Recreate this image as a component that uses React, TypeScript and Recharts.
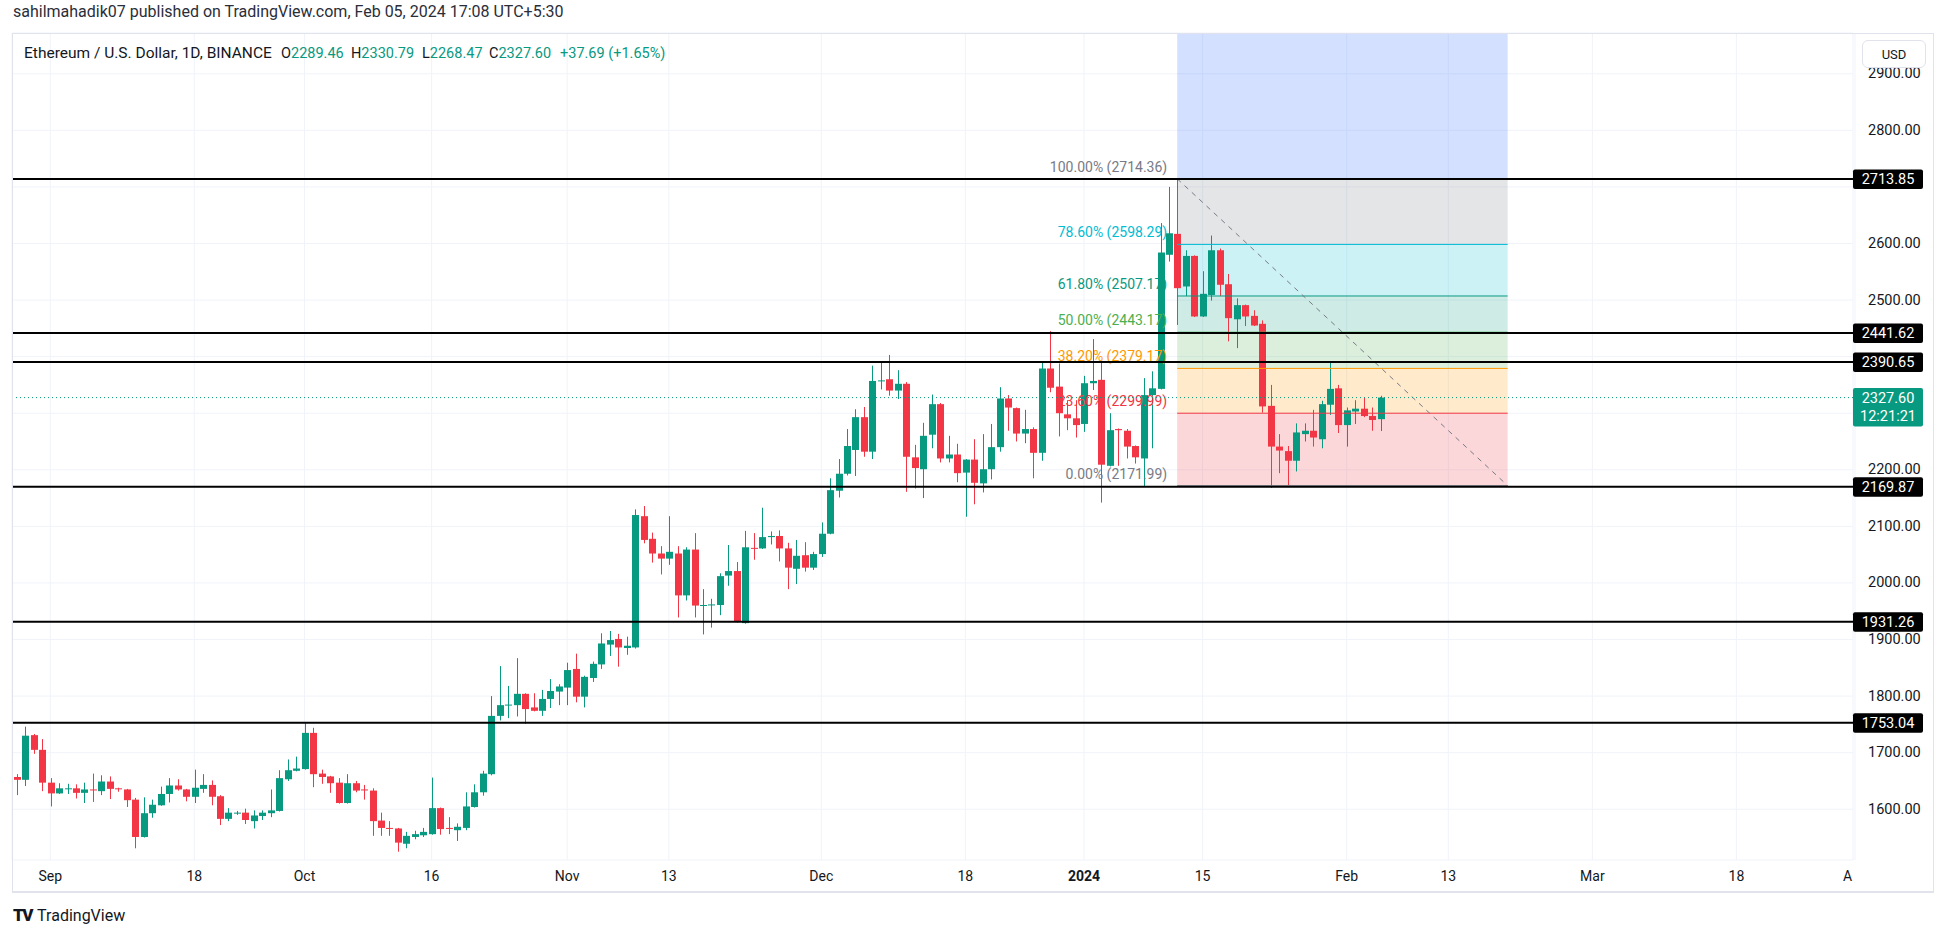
import React from 'react';
import { ComposedChart, Bar, XAxis, YAxis, CartesianGrid, ReferenceLine, ReferenceArea } from 'recharts';

const GREEN = '#089981';
const RED = '#f23645';
const TEXT = '#131722';
const FONT = 'Roboto, "Liberation Sans", Arial, sans-serif';

// daily ETHUSD candles, day 0 = 2023-08-28
const opens = [
  1657, 1652, 1731, 1705, 1647, 1628, 1636, 1637, 1629, 1635,
  1632, 1649, 1637, 1635, 1617, 1551, 1593, 1607, 1627, 1642,
  1635, 1622, 1636, 1643, 1623, 1583, 1593, 1594, 1579, 1588,
  1593, 1597, 1653, 1668, 1671, 1735, 1663, 1658, 1647, 1611,
  1646, 1635, 1633, 1580, 1567, 1566, 1539, 1551, 1554, 1556,
  1602, 1567, 1563, 1567, 1604, 1630, 1662, 1765, 1784, 1784,
  1804, 1780, 1774, 1795, 1808, 1815, 1848, 1799, 1832, 1856,
  1891, 1901, 1885, 1886, 2118, 2078, 2052, 2043, 2052, 1978,
  2059, 1960, 1961, 1961, 2013, 2021, 1929, 2062, 2061, 2081,
  2083, 2061, 2025, 2049, 2027, 2051, 2087, 2163, 2193, 2235,
  2293, 2232, 2357, 2360, 2340, 2352, 2222, 2201, 2262, 2316,
  2220, 2227, 2195, 2218, 2176, 2201, 2240, 2326, 2309, 2264,
  2272, 2230, 2379, 2347, 2298, 2291, 2281, 2353, 2359, 2207,
  2272, 2269, 2242, 2220, 2332, 2343, 2580, 2617, 2524, 2578,
  2471, 2509, 2588, 2528, 2466, 2491, 2472, 2458, 2313, 2241,
  2233, 2216, 2263, 2269, 2254, 2315, 2344, 2279, 2303, 2308,
  2295, 2289.46,
];
const highs = [
  1662, 1746, 1733, 1724, 1655, 1646, 1645, 1644, 1647, 1663,
  1660, 1658, 1638, 1636, 1620, 1621, 1617, 1640, 1655, 1653,
  1636, 1670, 1662, 1651, 1625, 1602, 1597, 1601, 1598, 1598,
  1635, 1669, 1688, 1693, 1753, 1744, 1670, 1659, 1655, 1662,
  1650, 1643, 1637, 1594, 1579, 1567, 1560, 1562, 1567, 1656,
  1603, 1586, 1575, 1630, 1644, 1668, 1800, 1853, 1818, 1867,
  1805, 1805, 1811, 1830, 1821, 1859, 1875, 1836, 1861, 1911,
  1915, 1910, 1905, 2130, 2136, 2089, 2065, 2118, 2065, 2063,
  2088, 1989, 1972, 2017, 2067, 2037, 2092, 2088, 2133, 2091,
  2093, 2071, 2076, 2072, 2055, 2107, 2185, 2219, 2272, 2307,
  2311, 2384, 2389, 2403, 2376, 2355, 2244, 2283, 2333, 2318,
  2260, 2246, 2219, 2254, 2263, 2281, 2346, 2332, 2310, 2306,
  2275, 2392, 2445, 2388, 2323, 2323, 2366, 2431, 2391, 2300,
  2273, 2272, 2243, 2362, 2374, 2636, 2700, 2714.36, 2588, 2579,
  2551, 2614, 2591, 2546, 2503, 2492, 2482, 2464, 2350, 2263,
  2242, 2282, 2282, 2306, 2322, 2390, 2350, 2310, 2323, 2328,
  2310, 2330.79,
];
const lows = [
  1625, 1641, 1698, 1632, 1605, 1627, 1627, 1619, 1611, 1613,
  1625, 1618, 1631, 1604, 1531, 1550, 1585, 1606, 1612, 1633,
  1614, 1611, 1629, 1607, 1572, 1579, 1590, 1574, 1566, 1581,
  1586, 1596, 1650, 1667, 1670, 1639, 1645, 1629, 1610, 1610,
  1630, 1617, 1553, 1553, 1553, 1525, 1531, 1547, 1551, 1555,
  1555, 1556, 1544, 1563, 1603, 1624, 1660, 1757, 1761, 1764,
  1751, 1773, 1765, 1779, 1784, 1784, 1789, 1780, 1825, 1848,
  1871, 1852, 1873, 1884, 2070, 2036, 2015, 2032, 1939, 1969,
  1939, 1909, 1921, 1943, 1995, 1930, 1928, 2041, 2060, 2068,
  2038, 1989, 1998, 2020, 2023, 2046, 2086, 2151, 2190, 2189,
  2223, 2219, 2342, 2331, 2325, 2161, 2167, 2150, 2238, 2213,
  2213, 2178, 2117, 2139, 2160, 2183, 2232, 2269, 2250, 2247,
  2185, 2216, 2337, 2259, 2270, 2257, 2267, 2341, 2142, 2206,
  2207, 2220, 2211, 2170, 2238, 2342, 2568, 2456, 2507, 2470,
  2470, 2499, 2507, 2427, 2415, 2454, 2454, 2301, 2168, 2194,
  2173, 2197, 2250, 2241, 2238, 2297, 2265, 2241, 2281, 2293,
  2269, 2268.47,
];
const closes = [
  1652, 1730, 1705, 1647, 1628, 1637, 1637, 1629, 1635, 1634,
  1649, 1636, 1636, 1616, 1551, 1593, 1608, 1627, 1642, 1635,
  1622, 1638, 1643, 1622, 1583, 1594, 1594, 1581, 1589, 1594,
  1598, 1655, 1669, 1672, 1735, 1662, 1657, 1646, 1611, 1646,
  1633, 1634, 1579, 1567, 1566, 1541, 1553, 1556, 1560, 1602,
  1565, 1566, 1569, 1605, 1630, 1663, 1765, 1784, 1785, 1804,
  1777, 1774, 1795, 1809, 1817, 1846, 1799, 1834, 1857, 1893,
  1899, 1886, 1889, 2120, 2076, 2052, 2043, 2055, 1978, 2059,
  1960, 1961, 1962, 2012, 2021, 1932, 2063, 2061, 2081, 2083,
  2061, 2027, 2048, 2027, 2051, 2087, 2164, 2193, 2242, 2293,
  2232, 2357, 2358, 2340, 2352, 2223, 2203, 2260, 2316, 2220,
  2227, 2194, 2218, 2177, 2201, 2240, 2326, 2310, 2264, 2272,
  2230, 2379, 2345, 2300, 2291, 2279, 2353, 2357, 2209, 2270,
  2270, 2241, 2222, 2332, 2344, 2584, 2618, 2521, 2578, 2471,
  2511, 2588, 2527, 2468, 2491, 2471, 2455, 2312, 2241, 2234,
  2216, 2266, 2269, 2257, 2316, 2343, 2279, 2305, 2308, 2295,
  2288, 2327.6,
];

const tickDays = [4, 21, 34, 49, 65, 77, 95, 112, 126, 140, 157, 169, 186, 203, 217];
const tickLabels = ['Sep', '18', 'Oct', '16', 'Nov', '13', 'Dec', '18', '2024', '15', 'Feb', '13', 'Mar', '18', 'A'];
const priceTicks = [1600, 1700, 1800, 1900, 2000, 2100, 2200, 2300, 2400, 2500, 2600, 2700, 2800, 2900];

// hand-drawn horizontal levels
const levelPrices = [2713.85, 2441.62, 2390.65, 2169.87, 1931.26, 1753.04];

// fib retracement drawn from the Jan 12 high down to the Jan 23 low
const fibPct = ['100.00%', '78.60%', '61.80%', '50.00%', '38.20%', '23.60%', '0.00%'];
const fibPrices = [2714.36, 2598.29, 2507.17, 2443.17, 2379.17, 2299.99, 2171.99];
const fibColors = ['#787b86', '#00bcd4', '#089981', '#4caf50', '#ff9800', '#f23645', '#787b86'];
const fibStart = 137;
const fibEnd = 176;

const lastPrice = 2327.6;
const countdown = '12:21:21';
const change = '+37.69 (+1.65%)';

const X_MIN = -0.52;
const X_MAX = 216.76;
const Y_MIN = 1510.3;
const Y_MAX = 2972;
const PLOT_H = 827;
const PX_PER_USD = PLOT_H / (Y_MAX - Y_MIN);

const candles = opens.map((o, i) => ({ day: i, o, h: highs[i], l: lows[i], c: closes[i] }));

const Candle = (props: any) => {
  const { x, y, width, height, payload } = props;
  const { o, h, l, c } = payload;
  const color = c >= o ? GREEN : RED;
  const top = Math.min(y, y + height);
  const hgt = Math.abs(height);
  const k = hgt / (h - l);
  const bTop = top + (h - Math.max(o, c)) * k;
  const bBot = top + (h - Math.min(o, c)) * k;
  const cx = Math.round(x + width / 2) + 0.5;
  return (
    <g>
      <line x1={cx} x2={cx} y1={top} y2={top + hgt} stroke={color} strokeWidth={1} />
      <rect x={cx - 3.5} y={bTop} width={7} height={Math.max(1, bBot - bTop)} fill={color} />
    </g>
  );
};

// axis labels sitting under a price tag are hidden, like on the terminal
const coveredByTag = (v: number) => {
  if (levelPrices.some((p) => Math.abs(v - p) * PX_PER_USD < 14)) return true;
  const d = (lastPrice - v) * PX_PER_USD;
  return d > -14 && d < 34;
};

const PriceTick = ({ x, y, payload }: any) =>
  coveredByTag(payload.value) ? <g /> : (
    <text x={x + 15} y={y} dominantBaseline="central" fontSize={14.5} fill={TEXT} fontFamily={FONT}>
      {payload.value.toFixed(2)}
    </text>
  );

const DateTick = ({ x, y, payload }: any) => {
  const label = tickLabels[tickDays.indexOf(payload.value)];
  const last = label === 'A';
  return (
    <text
      x={last ? x - 12 : x}
      y={y + 16}
      textAnchor={last ? 'start' : 'middle'}
      dominantBaseline="central"
      fontSize={14}
      fontWeight={label === '2024' ? 700 : 400}
      fill={TEXT}
      fontFamily={FONT}
    >
      {label}
    </text>
  );
};

const tag = (text: string, bg: string, sub?: string) => (props: any) => {
  const { x, y, width } = props.viewBox;
  const left = x + width;
  const h = sub ? 38.5 : 19.5;
  return (
    <g>
      <rect x={left} y={y - 9.5} width={70} height={h} rx={2} fill={bg} />
      <text x={left + 35} y={y + 0.5} textAnchor="middle" dominantBaseline="central" fontSize={14.5} fill="#fff" fontFamily={FONT}>
        {text}
      </text>
      {sub && (
        <text x={left + 35} y={y + 18.5} textAnchor="middle" dominantBaseline="central" fontSize={14.5} fill="#fff" fontFamily={FONT}>
          {sub}
        </text>
      )}
    </g>
  );
};

const fibLabel = (text: string, color: string) => (props: any) => {
  const { x, y } = props.viewBox;
  return (
    <text x={x - 10} y={y - 7} textAnchor="end" fontSize={14} fill={color} fontFamily={FONT}>
      {text}
    </text>
  );
};

export default function App() {
  const last = candles[candles.length - 1];
  const head = { position: 'absolute' as const, top: 45, fontSize: 14.5, whiteSpace: 'nowrap' as const };
  return (
    <div style={{ position: 'absolute', left: 0, top: 0, width: 1946, height: 937, background: '#fff', overflow: 'hidden', fontFamily: FONT, color: TEXT }}>
      <div style={{ position: 'absolute', left: 0, top: 0 }}>
        <ComposedChart width={1946} height={937} data={candles} margin={{ top: 33, right: 12, bottom: 45, left: 12 }}>
          <CartesianGrid stroke="#f0f3fa" />
          <XAxis
            dataKey="day"
            type="number"
            domain={[X_MIN, X_MAX]}
            allowDataOverflow
            ticks={tickDays}
            interval={0}
            height={32}
            tickSize={0}
            tickMargin={0}
            axisLine={false}
            tick={DateTick}
          />
          <YAxis
            orientation="right"
            type="number"
            domain={[Y_MIN, Y_MAX]}
            allowDataOverflow
            ticks={priceTicks}
            interval={0}
            width={81}
            tickSize={0}
            tickMargin={0}
            axisLine={false}
            tick={PriceTick}
          />
          <ReferenceArea x1={fibStart} x2={fibEnd} y1={fibPrices[0]} y2={Y_MAX} fill="#2962ff" fillOpacity={0.2} stroke="none" />
          {fibPrices.slice(0, -1).map((p, k) => (
            <ReferenceArea key={'fa' + k} x1={fibStart} x2={fibEnd} y1={fibPrices[k + 1]} y2={p} fill={fibColors[k]} fillOpacity={0.2} stroke="none" />
          ))}
          {fibPrices.map((p, k) => (
            <ReferenceLine
              key={'fl' + k}
              segment={[{ x: fibStart, y: p }, { x: fibEnd, y: p }]}
              stroke={fibColors[k]}
              strokeWidth={1}
              label={fibLabel(`${fibPct[k]} (${p.toFixed(2)})`, fibColors[k])}
            />
          ))}
          <ReferenceLine
            segment={[{ x: fibStart, y: fibPrices[0] }, { x: fibEnd, y: fibPrices[fibPrices.length - 1] }]}
            stroke="#787b86"
            strokeDasharray="5 5"
            strokeWidth={1}
          />
          <Bar dataKey={(d: any) => [d.l, d.h]} barSize={7} shape={Candle} isAnimationActive={false} />
          {levelPrices.map((p) => (
            <ReferenceLine key={'lv' + p} y={p} stroke="#000" strokeWidth={2} label={tag(p.toFixed(2), '#000')} />
          ))}
          <ReferenceLine y={lastPrice} stroke={GREEN} strokeDasharray="1 3" label={tag(lastPrice.toFixed(2), GREEN, countdown)} />
        </ComposedChart>
      </div>

      {/* pane frame */}
      <div style={{ position: 'absolute', left: 12, top: 33, width: 1922, height: 860, borderLeft: '1px solid #e0e3eb', borderRight: '1px solid #e0e3eb', borderTop: '1px solid #e0e3eb', borderBottom: '2px solid #e0e3eb', boxSizing: 'border-box', pointerEvents: 'none' }} />

      <div style={{ position: 'absolute', left: 13, top: 2, fontSize: 16, color: '#2a2e39', whiteSpace: 'nowrap' }}>
        sahilmahadik07 published on TradingView.com, Feb 05, 2024 17:08 UTC+5:30
      </div>
      <div style={{ ...head, left: 24, top: 44, fontSize: 15.5 }}>Ethereum / U.S. Dollar, 1D, BINANCE</div>
      <div style={{ ...head, left: 281 }}>O<span style={{ color: GREEN }}>{last.o.toFixed(2)}</span></div>
      <div style={{ ...head, left: 351 }}>H<span style={{ color: GREEN }}>{last.h.toFixed(2)}</span></div>
      <div style={{ ...head, left: 422 }}>L<span style={{ color: GREEN }}>{last.l.toFixed(2)}</span></div>
      <div style={{ ...head, left: 489 }}>C<span style={{ color: GREEN }}>{last.c.toFixed(2)}</span></div>
      <div style={{ ...head, left: 560, color: GREEN }}>{change}</div>

      <div style={{ position: 'absolute', left: 1862, top: 40, width: 64, height: 28, border: '1px solid #e0e3eb', borderRadius: 6, background: '#fff', boxSizing: 'border-box', fontSize: 13, display: 'flex', alignItems: 'center', justifyContent: 'center' }}>
        USD
      </div>
      <div style={{ position: 'absolute', left: 13, top: 905, fontSize: 16, display: 'flex', alignItems: 'center', gap: 5 }}>
        <span style={{ fontWeight: 900, fontSize: 17, letterSpacing: -1.5 }}>TV</span>
        <span>TradingView</span>
      </div>
    </div>
  );
}
